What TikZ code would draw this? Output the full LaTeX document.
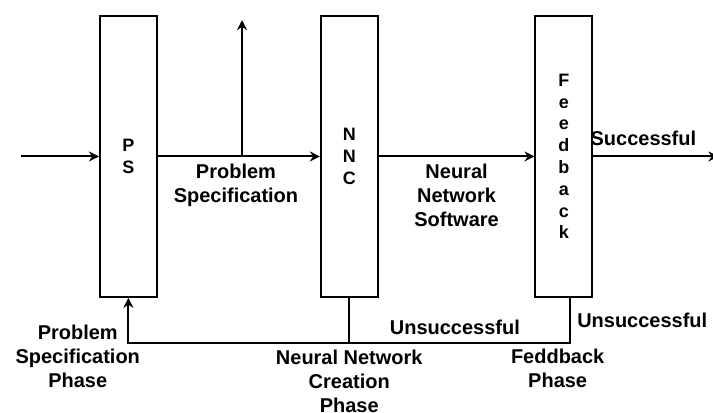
\documentclass[tikz,border=0pt]{standalone}
\usepackage{fontspec}
\setmainfont{Liberation Sans}
\usetikzlibrary{arrows.meta,positioning,calc}

\begin{document}
\begin{tikzpicture}[node distance=28.5mm,>={Stealth[length=5pt,width=5pt]},
 stage/.style={draw,line width=1pt,minimum width=10mm,minimum height=49.4mm,align=center,font=\bfseries\fontsize{9}{10.9}\selectfont},
 lbl/.style={align=center,font=\bfseries\fontsize{10}{12}\selectfont},
 arr/.style={->,line width=1pt},
 wire/.style={line width=1pt}]
\useasboundingbox (0,0) rectangle (125.4mm,-72.5mm);
\node[stage,anchor=north west] (ps) at (17.4mm,-2.64mm) {P\\S};
\node[stage,right=of ps] (nnc) {N\\N\\C};
\node[stage,right=27.4mm of nnc] (fb) {F\\e\\e\\d\\b\\a\\c\\k};
\coordinate[left=13.7mm of ps.west] (in);
\coordinate[right=22mm of fb.east] (done);
\coordinate (split) at ($(ps.east)!0.52!(nnc.west)$);
\coordinate (out) at ([yshift=-0.9mm]split |- ps.north);
\node[lbl,below=3.5mm of ps.south,xshift=-8.9mm] (psphase) {Problem\\Specification\\Phase};
\node[lbl,below=7.9mm of nnc.south] (nncphase) {Neural Network\\Creation\\Phase};
\node[lbl,below=7.7mm of fb.south,xshift=-1.1mm] (fbphase) {Feddback\\Phase};
\draw[arr] (in) -- (ps);
\draw[arr] (ps) -- node[lbl,below,xshift=-0.5mm]{Problem\\Specification} (nnc);
\draw[arr] (split) -- (out);
\draw[arr] (nnc) -- node[lbl,below]{Neural\\Network\\Software} (fb);
\draw[arr] (fb) -- node[lbl,above,pos=0.4,yshift=1.5pt]{Successful} (done);
\draw[arr] ([xshift=1mm]fb.south) -- node[lbl,right]{Unsuccessful} ++(0,-7.87mm)
  -| node[lbl,above,pos=0.13]{Unsuccessful} (ps.south);
\draw[wire] (nnc.south) -- ++(0,-7.87mm);
\end{tikzpicture}
\end{document}
